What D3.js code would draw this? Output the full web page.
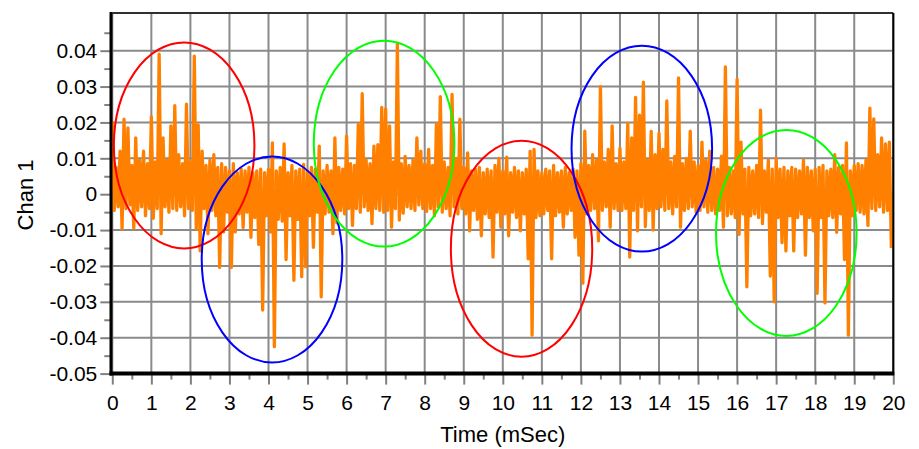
<!DOCTYPE html>
<html>
<head>
<meta charset="utf-8">
<script src="https://cdn.jsdelivr.net/npm/d3@7"></script>
<style>
    body { margin: 0; background: #ffffff; }
    svg { display: block; font-family: "Liberation Sans", Arial, sans-serif; }
</style>
</head>
<body>
<div id="chart"></div>
<script>
// axis ticks
const x_ticks = [0, 1, 2, 3, 4, 5, 6, 7, 8, 9, 10, 11, 12, 13, 14, 15, 16, 17, 18, 19, 20];
const x_minor = [0.5, 1.5, 2.5, 3.5, 4.5, 5.5, 6.5, 7.5, 8.5, 9.5, 10.5, 11.5, 12.5, 13.5, 14.5, 15.5, 16.5, 17.5, 18.5, 19.5];
const y_ticks = [0.04, 0.03, 0.02, 0.01, 0, -0.01, -0.02, -0.03, -0.04, -0.05];
const y_minor = [0.045, 0.035, 0.025, 0.015, 0.005, -0.005, -0.015, -0.025, -0.035, -0.045];
const x_title = "Time (mSec)";
const y_title = "Chan 1";

// Chan 1 signal, one bin per 0.1 ms: highest and lowest sample seen in the bin
const bin_width = 0.1;
const chan_high = [
    0.0204, 0.0075, 0.012, 0.0209, 0.0185, 0.008, 0.0157, 0.0095, 0.012, 0.0085,
    0.0216, 0.009, 0.039, 0.0157, 0.0095, 0.019, 0.0247, 0.011, 0.0085, 0.0251,
    0.009, 0.0385, 0.0193, 0.012, 0.008, 0.0095, 0.011, 0.0075, 0.0085, 0.0075,
    0.0065, 0.0085, 0.006, 0.007, 0.0065, 0.0075, 0.006, 0.0065, 0.007, 0.006,
    0.007, 0.0143, 0.0065, 0.0075, 0.014, 0.006, 0.008, 0.0065, 0.007, 0.0083,
    0.0065, 0.0075, 0.007, 0.0134, 0.0065, 0.008, 0.0065, 0.0157, 0.0075, 0.007,
    0.0162, 0.0085, 0.008, 0.0195, 0.028, 0.0095, 0.0085, 0.0134, 0.0138, 0.0242,
    0.0238, 0.019, 0.009, 0.0419, 0.0085, 0.0105, 0.008, 0.0095, 0.0157, 0.012,
    0.0085, 0.0125, 0.008, 0.0195, 0.0272, 0.009, 0.0075, 0.0278, 0.010, 0.0209,
    0.0075, 0.0115, 0.0065, 0.007, 0.0075, 0.006, 0.007, 0.0065, 0.008, 0.010,
    0.0065, 0.0103, 0.006, 0.0075, 0.0065, 0.006, 0.007, 0.012, 0.0125, 0.0065,
    0.006, 0.007, 0.0065, 0.008, 0.006, 0.0065, 0.0075, 0.006, 0.007, 0.0065,
    0.0085, 0.0176, 0.008, 0.011, 0.0095, 0.030, 0.009, 0.0125, 0.019, 0.0085,
    0.0128, 0.009, 0.0197, 0.0157, 0.027, 0.022, 0.0312, 0.0095, 0.0175, 0.011,
    0.017, 0.0125, 0.026, 0.009, 0.0105, 0.0324, 0.0085, 0.010, 0.0176, 0.009,
    0.008, 0.0145, 0.0095, 0.012, 0.0075, 0.007, 0.0106, 0.0355, 0.0075, 0.0065,
    0.032, 0.0145, 0.007, 0.0075, 0.0065, 0.008, 0.0234, 0.0065, 0.0095, 0.007,
    0.010, 0.007, 0.0075, 0.0065, 0.0075, 0.007, 0.0065, 0.0095, 0.0075, 0.0065,
    0.007, 0.0075, 0.008, 0.0065, 0.007, 0.011, 0.0075, 0.008, 0.0143, 0.0065,
    0.008, 0.0085, 0.008, 0.0095, 0.024, 0.021, 0.011, 0.0157, 0.014, 0.0145
];
const chan_low = [
    -0.0045, -0.0035, -0.0097, -0.004, -0.003, -0.0095, -0.0045, -0.0035, -0.006, -0.004,
    -0.0067, -0.004, -0.011, -0.0035, -0.005, -0.004, -0.0045, -0.0035, -0.006, -0.004,
    -0.0045, -0.0097, -0.0158, -0.004, -0.011, -0.0045, -0.006, -0.0204, -0.0105, -0.005,
    -0.0204, -0.0105, -0.0055, -0.0093, -0.005, -0.012, -0.0065, -0.014, -0.0323, -0.006,
    -0.0105, -0.0425, -0.007, -0.0075, -0.0182, -0.006, -0.024, -0.007, -0.023, -0.0202,
    -0.006, -0.0148, -0.005, -0.0286, -0.0055, -0.005, -0.011, -0.008, -0.0045, -0.0055,
    -0.004, -0.0087, -0.004, -0.005, -0.0035, -0.0045, -0.0082, -0.004, -0.0045, -0.005,
    -0.0045, -0.0092, -0.004, -0.0072, -0.0053, -0.0035, -0.004, -0.0045, -0.003, -0.004,
    -0.0048, -0.004, -0.006, -0.0035, -0.005, -0.004, -0.006, -0.0035, -0.0055, -0.004,
    -0.0055, -0.0102, -0.0045, -0.007, -0.0116, -0.0055, -0.0065, -0.0175, -0.005, -0.0092,
    -0.0055, -0.0116, -0.005, -0.0065, -0.0102, -0.0055, -0.018, -0.0393, -0.0065, -0.006,
    -0.0055, -0.0045, -0.018, -0.006, -0.005, -0.0092, -0.0055, -0.0045, -0.012, -0.017,
    -0.0248, -0.0055, -0.0045, -0.004, -0.013, -0.0045, -0.0035, -0.0092, -0.004, -0.0045,
    -0.0045, -0.004, -0.0175, -0.0045, -0.0102, -0.0035, -0.009, -0.0045, -0.01, -0.004,
    -0.0035, -0.0045, -0.004, -0.0055, -0.0035, -0.0092, -0.0045, -0.004, -0.0035, -0.005,
    -0.0045, -0.0035, -0.005, -0.0045, -0.0055, -0.0045, -0.0092, -0.006, -0.0055, -0.0065,
    -0.0112, -0.0055, -0.0258, -0.006, -0.0055, -0.0065, -0.0082, -0.005, -0.0228, -0.030,
    -0.0065, -0.0135, -0.0158, -0.006, -0.0158, -0.0065, -0.0055, -0.017, -0.0065, -0.0102,
    -0.0276, -0.0065, -0.0303, -0.006, -0.0065, -0.0106, -0.0055, -0.0182, -0.0393, -0.006,
    -0.0045, -0.005, -0.0055, -0.0087, -0.004, -0.0045, -0.0035, -0.005, -0.0045, -0.015
];

// marked regions (ellipses): centre and half size in data units
const ring_colors = ["#ff0000", "#0000ff", "#00ff00", "#ff0000", "#0000ff", "#00ff00"];
const ring_time = [1.84, 4.09, 6.96, 10.48, 13.56, 17.26];
const ring_value = [0.0136, -0.0182, 0.0141, -0.0152, 0.0127, -0.0108];
const ring_half_time = [1.80, 1.80, 1.80, 1.81, 1.80, 1.80];
const ring_half_value = [0.0287, 0.0287, 0.0287, 0.0301, 0.0287, 0.0287];

class ChanView {

    constructor(holder) {
        // sizes
        this.width = 919;
        this.height = 449;
        this.left = 112.3;
        this.right = 893.3;
        this.top = 13;
        this.bottom = 373.6;

        // colors
        this.grid_color = "#8a8a8a";
        this.signal_color = "#ff8000";
        this.font_size = "21px";
        this.title_size = "22px";

        this.x = d3.scaleLinear().domain([0, 20]).range([this.left, this.right]);
        this.y = d3.scaleLinear().domain([-0.05, 0.0505]).range([this.bottom, this.top]);

        d3.select(holder).html("");
        this.svg = d3.select(holder)
            .append("svg")
            .attr("width", this.width)
            .attr("height", this.height);
    }

    draw() {
        this._draw_grid();
        this._draw_signal();
        this._draw_rings();
        this._draw_axes();
        this._draw_titles();
    }

    _draw_grid() {
        const self = this;
        const grid = this.svg.append("g").attr("class", "grid");

        grid.selectAll(".vline")
            .data(x_ticks)
            .enter().append("line")
            .attr("class", "vline")
            .attr("x1", function(d) { return self.x(d); })
            .attr("x2", function(d) { return self.x(d); })
            .attr("y1", this.top)
            .attr("y2", this.bottom)
            .attr("stroke", this.grid_color)
            .attr("stroke-width", 2);

        grid.selectAll(".hline")
            .data(y_ticks)
            .enter().append("line")
            .attr("class", "hline")
            .attr("x1", this.left)
            .attr("x2", this.right)
            .attr("y1", function(d) { return self.y(d); })
            .attr("y2", function(d) { return self.y(d); })
            .attr("stroke", this.grid_color)
            .attr("stroke-width", 2);
    }

    _draw_signal() {
        // each bin gives its high sample then its low sample
        const points = [];
        for (let i = 0; i < chan_high.length; i++) {
            points.push([i * bin_width, chan_high[i]]);
            points.push([i * bin_width + bin_width / 2, chan_low[i]]);
        }

        const line = d3.line()
            .x(d => this.x(d[0]))
            .y(d => this.y(d[1]));

        this.svg.append("path")
            .datum(points)
            .attr("d", line)
            .attr("fill", "none")
            .attr("stroke", this.signal_color)
            .attr("stroke-width", 3.3)
            .attr("stroke-linejoin", "round");
    }

    _draw_rings() {
        const self = this;
        const rings = ring_time.map(function(t, i) {
            return {t: t, v: ring_value[i], ht: ring_half_time[i], hv: ring_half_value[i], color: ring_colors[i]};
        });

        this.svg.selectAll(".ring")
            .data(rings)
            .enter().append("ellipse")
            .attr("class", "ring")
            .attr("cx", function(d) { return self.x(d.t); })
            .attr("cy", function(d) { return self.y(d.v); })
            .attr("rx", function(d) { return self.x(d.t + d.ht) - self.x(d.t); })
            .attr("ry", function(d) { return self.y(d.v - d.hv) - self.y(d.v); })
            .attr("fill", "none")
            .attr("stroke", function(d) { return d.color; })
            .attr("stroke-width", 2);
    }

    _draw_axes() {
        const label = d => String(+d.toFixed(3));

        // left axis
        this.svg.append("g")
            .attr("transform", "translate(" + this.left + ",0)")
            .call(d3.axisLeft(this.y).tickValues(y_ticks).tickSize(12).tickPadding(3).tickFormat(label));
        this.svg.append("g")
            .attr("transform", "translate(" + this.left + ",0)")
            .call(d3.axisLeft(this.y).tickValues(y_minor).tickSize(8).tickFormat(""));

        // bottom axis
        const x_axis = this.svg.append("g")
            .attr("transform", "translate(0," + this.bottom + ")")
            .call(d3.axisBottom(this.x).tickValues(x_ticks).tickSize(11).tickFormat(label));
        this.svg.append("g")
            .attr("transform", "translate(0," + this.bottom + ")")
            .call(d3.axisBottom(this.x).tickValues(x_minor).tickSize(6).tickFormat(""));

        x_axis.selectAll("text").attr("y", 36).attr("dy", null);

        this.svg.selectAll(".domain").remove();
        this.svg.selectAll(".tick line")
            .attr("stroke", "#808080")
            .attr("stroke-width", 2);
        this.svg.selectAll(".tick text")
            .attr("fill", "#000000")
            .style("font-size", this.font_size)
            .style("font-family", "'Liberation Sans', Arial, sans-serif");

        // frame
        const frame = this.svg.append("g").attr("class", "frame");
        frame.append("line")
            .attr("x1", this.left).attr("x2", this.right)
            .attr("y1", this.top).attr("y2", this.top)
            .attr("stroke", "#303030").attr("stroke-width", 2);
        frame.append("line")
            .attr("x1", this.right).attr("x2", this.right)
            .attr("y1", this.top).attr("y2", this.bottom)
            .attr("stroke", "#000000").attr("stroke-width", 2);
        frame.append("line")
            .attr("x1", this.left - 1.3).attr("x2", this.left - 1.3)
            .attr("y1", this.top - 1).attr("y2", this.bottom + 2)
            .attr("stroke", "#000000").attr("stroke-width", 3);
        frame.append("line")
            .attr("x1", this.left - 2.8).attr("x2", this.right + 1)
            .attr("y1", this.bottom).attr("y2", this.bottom)
            .attr("stroke", "#000000").attr("stroke-width", 4);
    }

    _draw_titles() {
        this.svg.append("text")
            .attr("x", (this.left + this.right) / 2)
            .attr("y", 442)
            .attr("text-anchor", "middle")
            .style("font-size", this.title_size)
            .text(x_title);

        this.svg.append("text")
            .attr("transform", "translate(33," + 195 + ") rotate(-90)")
            .attr("text-anchor", "middle")
            .style("font-size", this.title_size)
            .text(y_title);
    }
}

const view = new ChanView("#chart");
view.draw();
</script>
</body>
</html>
